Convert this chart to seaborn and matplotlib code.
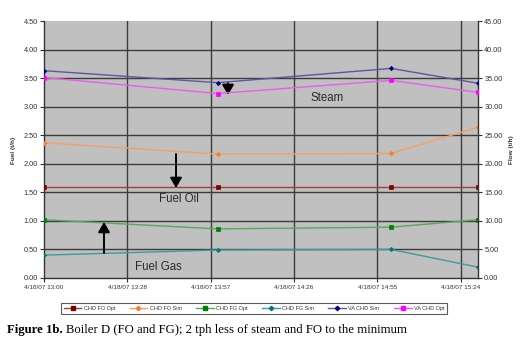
import matplotlib
matplotlib.use("Agg")
import matplotlib.pyplot as plt
from matplotlib.lines import Line2D
import seaborn as sns
import pandas as pd

# ---- data ----
times = ["13:00", "14:00", "15:00", "15:30"]
tick_labels = ["4/18/07 13:00", "4/18/07 13:28", "4/18/07 13:57",
               "4/18/07 14:26", "4/18/07 14:55", "4/18/07 15:24"]
chd_fo_opt = [1.60, 1.60, 1.60, 1.60]
chd_fo_sim = [2.37, 2.17, 2.18, 2.64]
chd_fg_opt = [1.02, 0.86, 0.89, 1.02]
chd_fg_sim = [0.40, 0.49, 0.50, 0.19]
va_chd_sim = [36.3, 34.2, 36.7, 34.1]
va_chd_opt = [35.1, 32.3, 34.6, 32.5]

def to_min(s):
    h, m = s.split(":")
    return (int(h) - 13) * 60 + int(m)

t = [to_min(s) for s in times]

fuel_series = [
    ("CHD FO Opt", chd_fo_opt, "#a04040", "#800000", "s", 3.2),
    ("CHD FO Sim", chd_fo_sim, "#f4a062", "#ff7a20", "D", 2.2),
    ("CHD FG Opt", chd_fg_opt, "#5aa85a", "#008000", "s", 3.2),
    ("CHD FG Sim", chd_fg_sim, "#3c9c9c", "#007878", "D", 2.2),
]
flow_series = [
    ("VA CHD Sim", va_chd_sim, "#5858a4", "#000080", "D", 2.2),
    ("VA CHD Opt", va_chd_opt, "#ee5cee", "#ff00ff", "s", 3.2),
]

plt.rcParams['font.family'] = ['Liberation Sans', 'DejaVu Sans']

W, H = 525, 343
fig = plt.figure(figsize=(W / 100, H / 100), dpi=100)
L, R, T, B = 44, 478, 21, 278
ax = fig.add_axes([L / W, 1 - B / H, (R - L) / W, (B - T) / H])
ax.set_facecolor("#c0c0c0")
ax2 = ax.twinx()

grid_c = "#3c3c3c"
xticks = [i * 28.8 for i in range(6)]

for name, vals, lc, mc, mk, ms in fuel_series:
    df = pd.DataFrame({"t": t, "v": vals})
    sns.lineplot(data=df, x="t", y="v", ax=ax, color=lc, marker=mk,
                 markersize=ms, markerfacecolor=mc, markeredgecolor=mc,
                 markeredgewidth=0.5, linewidth=1.0, legend=False, zorder=5)
for name, vals, lc, mc, mk, ms in flow_series:
    df = pd.DataFrame({"t": t, "v": vals})
    sns.lineplot(data=df, x="t", y="v", ax=ax2, color=lc, marker=mk,
                 markersize=ms, markerfacecolor=mc, markeredgecolor=mc,
                 markeredgewidth=0.5, linewidth=1.0, legend=False, zorder=5)

ax.set_xlim(0, 150)
ax.set_ylim(0, 4.5)
ax2.set_ylim(0, 45)
ax.set_yticks([i * 0.5 for i in range(10)])
ax.set_yticklabels([f"{i*0.5:.2f}" for i in range(10)])
ax2.set_yticks([i * 5 for i in range(10)])
ax2.set_yticklabels([f"{i*5:.2f}" for i in range(10)])
ax.set_xticks(xticks)
ax.set_xticklabels(tick_labels)

for y in [i * 0.5 for i in range(1, 9)]:
    ax.axhline(y, color=grid_c, lw=1.0, zorder=1)
for x in xticks[1:]:
    ax.axvline(x, color=grid_c, lw=1.0, zorder=1)

for a in (ax, ax2):
    a.set_xlabel("")
    a.set_ylabel("")
    a.spines["top"].set_visible(False)
ax.spines["right"].set_visible(False)
ax2.spines["left"].set_visible(False)
ax2.spines["bottom"].set_visible(False)
for sp in [ax.spines["left"], ax.spines["bottom"], ax2.spines["right"]]:
    sp.set_color("#333333")
    sp.set_linewidth(1.0)
ax.tick_params(axis="y", labelsize=5.3, length=3, width=0.8, pad=1.5,
               colors="#333333", labelcolor="#333333")
ax.tick_params(axis="x", labelsize=4.6, length=3, width=0.8, pad=2,
               colors="#333333", labelcolor="#333333")
ax2.tick_params(axis="y", labelsize=5.3, length=3, width=0.8, pad=1.5,
                colors="#333333", labelcolor="#333333")

fig.text(13 / W, 1 - 150 / H, "Fuel (t/h)", rotation=90, fontsize=4.6,
         fontweight="bold", ha="center", va="center", color="#333333")
fig.text(511 / W, 1 - 150 / H, "Flow (t/h)", rotation=90, fontsize=4.6,
         fontweight="bold", ha="center", va="center", color="#333333")

# annotations
txt_c = "#2a2a2a"
ax.text((327 - L) / 2.893, (B - 98) / 57.1, "Steam", fontsize=8.3,
        ha="center", va="center", color=txt_c, zorder=6)
ax.text((179 - L) / 2.893, (B - 199) / 57.1, "Fuel Oil", fontsize=8.3,
        ha="center", va="center", color=txt_c, zorder=6)
ax.text((158 - L) / 2.893, (B - 267) / 57.1, "Fuel Gas", fontsize=8.3,
        ha="center", va="center", color=txt_c, zorder=6)

def arrow(px, py0, py1, hl=0.55, hw=0.32):
    x = (px - L) / 2.893
    ax.annotate("", xy=(x, (B - py1) / 57.1), xytext=(x, (B - py0) / 57.1),
                arrowprops=dict(arrowstyle=f"-|>,head_length={hl},head_width={hw}",
                                color="black", lw=1.4, shrinkA=0, shrinkB=0,
                                mutation_scale=11), zorder=7)

arrow(228, 83, 95)
arrow(176, 154, 188)
arrow(104, 253, 222)

# legend
handles = []
labels = []
for name, vals, lc, mc, mk, ms in fuel_series + flow_series:
    handles.append(Line2D([0], [0], color=lc, lw=1.0, marker=mk, markersize=ms,
                          markerfacecolor=mc, markeredgecolor=mc))
    labels.append(name)
leg = fig.legend(handles, labels, loc="center", bbox_to_anchor=(254 / W, 1 - 308.5 / H),
                 ncol=6, fontsize=4.0, frameon=True, fancybox=False,
                 edgecolor="#333333", handlelength=3.2, columnspacing=2.6,
                 handletextpad=0.4, borderpad=0.5, borderaxespad=0)
leg.get_frame().set_linewidth(0.8)
for tx in leg.get_texts():
    tx.set_color("#333333")

# caption with bold prefix
cap_bold = fig.text(7 / W, 1 - 330 / H, "Figure 1b.", fontsize=9.2, ha="left",
                    va="center", family=["Liberation Serif"], fontweight="bold")
fig.canvas.draw()
bb = cap_bold.get_window_extent()
fig.text((bb.x1 + 3) / W, 1 - 330 / H,
         "Boiler D (FO and FG); 2 tph less of steam and FO to the minimum",
         fontsize=9.2, ha="left", va="center", family=["Liberation Serif"])

fig.savefig("out.png", dpi=100)
